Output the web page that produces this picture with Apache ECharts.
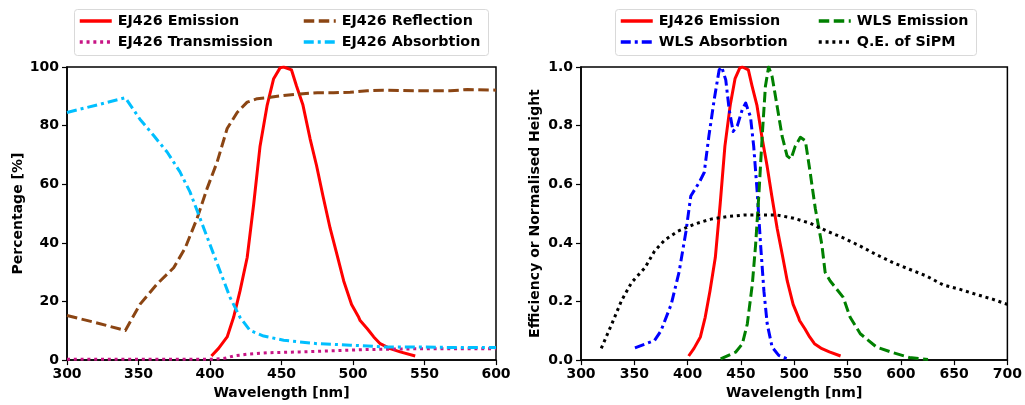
<!DOCTYPE html>
<html>
<head>
<meta charset="utf-8">
<script src="https://cdn.jsdelivr.net/npm/echarts@6/dist/echarts.min.js"></script>
<style>
html,body{margin:0;padding:0;background:#fff;}
#chart{width:1025px;height:405px;}
</style>
</head>
<body>
<div id="chart"></div>
<script>
// ---------- Data ----------
// Left panel: EJ426 spectra, percentage
const emissionWl  = [401,406,412,416.5,421,426,430.5,435,440,444.5,449,451.5,457,460.5,465,470,474.5,479,484,488.8,493.5,499,504,505,510,514.5,519,526,533,543.5];
const emissionPct = [1.4,4,7.9,14.6,23.6,35,53,73,87,96,99.7,100,99,93.5,87,75.5,66.4,56,45,36,27,19,14.6,13.5,10.7,7.9,5.6,3.9,2.8,1.4];

const transWl  = [300,350,400,402.5,410,416.5,426,440,463,486.5,510,533,560,600];
const transPct = [0.3,0.3,0.3,0.3,0.6,1.4,2,2.5,2.8,3.2,3.6,3.8,3.9,3.9];

const reflWl  = [300,320,340.8,351,363,374.6,382.7,391,398,405,412,419,426,433,440,451.5,463,475,486.5,498,510,521,533,545,556,568,580,600];
const reflPct = [15.2,12.8,10.1,19,26,31.5,38.3,48.4,58.6,67.6,79,84.5,88,89.2,89.5,90.3,90.8,91.2,91.2,91.4,91.9,92.1,92,91.9,91.9,91.9,92.3,92.1];

const absWl  = [300,323,340.8,351,360.6,370,379,386,393,400,407,414,421,428,437.5,451.5,475,498,521,545,568,600];
const absPct = [84.5,87.3,89.5,82.2,76.6,71,64.2,57.4,48.4,39.4,30.4,21.4,14.6,10.1,8.2,6.8,5.6,5.1,4.5,4.5,4.3,4.3];

// Right panel: normalised heights / efficiency
const wlsAbsWl  = [350.6,369,375,384.6,392,398.5,403,411,415.6,420,425,429.6,432,435.8,439,442.7,446.7,451.3,454.5,459,462,465.3,468.5,471.6,474.7,479.3,485.5,496.4];
const wlsAbsVal = [0.042,0.067,0.10,0.19,0.30,0.44,0.56,0.607,0.64,0.765,0.89,0.99,1.0,0.956,0.855,0.78,0.80,0.855,0.877,0.83,0.73,0.573,0.393,0.235,0.123,0.044,0.016,0.0];

const wlsEmWl  = [431,445,451.3,456,460.7,463.8,467,470,473,476,479.3,484,488.6,493.3,497,501,505.8,510.5,515,519.8,526,529,533.8,546,552.5,562,577,593,608,625.5];
const wlsEmVal = [0.004,0.027,0.055,0.123,0.258,0.393,0.573,0.765,0.934,1.0,0.967,0.866,0.765,0.697,0.686,0.73,0.76,0.748,0.64,0.517,0.393,0.30,0.27,0.214,0.146,0.09,0.045,0.025,0.009,0.002];

const qeWl  = [319,329,338,347.5,360,369,378.6,391,406.5,422,437.6,453,468.6,484,499.7,515,530.7,546,562,577,593,608,624,639.5,655,670,686,700];
const qeVal = [0.04,0.124,0.203,0.265,0.315,0.372,0.41,0.44,0.464,0.481,0.49,0.495,0.495,0.495,0.484,0.467,0.44,0.417,0.389,0.36,0.332,0.31,0.287,0.257,0.242,0.225,0.208,0.19];

const leftXTicks  = [300,350,400,450,500,550,600];
const leftYTicks  = [0,20,40,60,80,100];
const rightXTicks = [300,350,400,450,500,550,600,650,700];
const rightYTicks = [0,0.2,0.4,0.6,0.8,1.0];

// ---------- Helpers ----------
const zip = (a, b) => a.map((v, i) => [v, b[i]]);
const FONT = 'DejaVu Sans';
const txt = (size) => ({ fontFamily: FONT, fontWeight: 'bold', fontSize: size, color: '#000' });

function lineSeries(name, xi, yi, data, color, type) {
  return {
    name, type: 'line', xAxisIndex: xi, yAxisIndex: yi, data,
    symbol: 'none', smooth: false, clip: true,
    lineStyle: { color, width: 3, type: type, cap: 'butt', join: 'round' },
    itemStyle: { color },
    emphasis: { disabled: true }, silent: true
  };
}
const DASHED = [10.5, 4.5];
const DOTTED = [3, 3.8];
const DASHDOT = [10, 4, 3, 4];

function xAxis(gridIndex, min, max) {
  return {
    type: 'value', gridIndex, min, max, interval: 50,
    name: 'Wavelength [nm]', nameLocation: 'middle', nameGap: 25,
    nameTextStyle: txt(14),
    axisLine: { show: true, lineStyle: { color: '#000', width: 1.5 } },
    axisTick: { show: true, inside: false, length: 5, lineStyle: { color: '#000', width: 1.2 } },
    axisLabel: Object.assign(txt(14), { margin: 7 }),
    splitLine: { show: false }
  };
}
function yAxis(gridIndex, min, max, interval, name, nameGap, fmt) {
  return {
    type: 'value', gridIndex, min, max, interval,
    name, nameLocation: 'middle', nameGap,
    nameTextStyle: txt(14),
    axisLine: { show: true, lineStyle: { color: '#000', width: 1.5 } },
    axisTick: { show: true, inside: false, length: 5, lineStyle: { color: '#000', width: 1.2 } },
    axisLabel: Object.assign(txt(14), { margin: 8, formatter: fmt }),
    splitLine: { show: false }
  };
}
function legend(names, left, top) {
  return {
    data: names, orient: 'vertical', left, top,
    itemWidth: 32, itemHeight: 14, itemGap: 7,
    itemStyle: { color: 'transparent', borderColor: 'transparent', borderWidth: 0, opacity: 0 },
    lineStyle: { width: 3.5 },
    textStyle: Object.assign(txt(14.3), { padding: [0, 0, 0, 1] }),
    padding: 0, selectedMode: false
  };
}

const chart = echarts.init(document.getElementById('chart'), null, { renderer: 'canvas' });
const option = {
  animation: false,
  backgroundColor: '#fff',
  grid: [
    { left: 67, top: 67, width: 429, height: 296, show: true, borderColor: '#000', borderWidth: 1.5, backgroundColor: 'transparent' },
    { left: 581, top: 67, width: 429, height: 296, show: true, borderColor: '#000', borderWidth: 1.5, backgroundColor: 'transparent' }
  ],
  xAxis: [ xAxis(0, 300, 600), xAxis(1, 300, 700) ],
  yAxis: [
    yAxis(0, 0, 100, 20, 'Percentage [%]', 42, (v) => String(v)),
    yAxis(1, 0, 1, 0.2, 'Efficiency or Normalised Height', 39, (v) => v.toFixed(1))
  ],
  graphic: [
    { type: 'rect', shape: { x: 74.5, y: 9.5, width: 414, height: 46, r: 3 }, style: { fill: '#fff', stroke: '#d9d9d9', lineWidth: 1 }, z: -1, silent: true },
    { type: 'rect', shape: { x: 615.5, y: 9.5, width: 361, height: 46, r: 3 }, style: { fill: '#fff', stroke: '#d9d9d9', lineWidth: 1 }, z: -1, silent: true }
  ],
  legend: [
    legend(['EJ426 Emission', 'EJ426 Transmission'], 78, 14),
    legend(['EJ426 Reflection', 'EJ426 Absorbtion'], 302, 14),
    legend(['EJ426 Emission ', 'WLS Absorbtion'], 619, 14),
    legend(['WLS Emission', 'Q.E. of SiPM'], 817, 14)
  ],
  series: [
    lineSeries('EJ426 Emission', 0, 0, zip(emissionWl, emissionPct), '#ff0000', 'solid'),
    lineSeries('EJ426 Transmission', 0, 0, zip(transWl, transPct), '#c71585', DOTTED),
    lineSeries('EJ426 Reflection', 0, 0, zip(reflWl, reflPct), '#8b4513', DASHED),
    lineSeries('EJ426 Absorbtion', 0, 0, zip(absWl, absPct), '#00bfff', DASHDOT),
    lineSeries('EJ426 Emission ', 1, 1, zip(emissionWl, emissionPct.map(v => v / 100)), '#ff0000', 'solid'),
    lineSeries('WLS Absorbtion', 1, 1, zip(wlsAbsWl, wlsAbsVal), '#0000ff', DASHDOT),
    lineSeries('WLS Emission', 1, 1, zip(wlsEmWl, wlsEmVal), '#008000', DASHED),
    lineSeries('Q.E. of SiPM', 1, 1, zip(qeWl, qeVal), '#000000', DOTTED)
  ]
};
chart.setOption(option);
</script>
</body>
</html>
